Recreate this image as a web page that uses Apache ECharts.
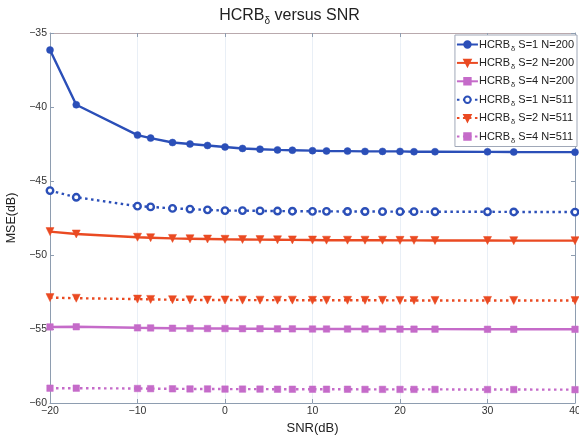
<!DOCTYPE html>
<html>
<head>
<meta charset="utf-8">
<script src="https://cdn.jsdelivr.net/npm/echarts@6/dist/echarts.min.js"></script>
<style>
  html, body { margin: 0; padding: 0; background: #fff; }
  #chart { width: 579px; height: 435px; }
</style>
</head>
<body>
<div id="chart"></div>
<script>
// SNR sample points (dB)
const snr = [-20, -17, -10, -8.5, -6, -4, -2, 0, 2, 4, 6, 7.7, 10, 11.6, 14, 16, 18, 20, 21.6, 24, 30, 33, 40];

// MSE (dB) for each configuration
const s1n200 = [-36.15, -39.85, -41.9, -42.1, -42.4, -42.5, -42.6, -42.7, -42.8, -42.85, -42.9, -42.92, -42.95, -42.97, -42.98, -43.0, -43.0, -43.0, -43.02, -43.02, -43.03, -43.04, -43.05];
const s2n200 = [-48.42, -48.58, -48.8, -48.83, -48.88, -48.9, -48.92, -48.94, -48.95, -48.96, -48.97, -48.98, -48.99, -49.0, -49.0, -49.0, -49.0, -49.01, -49.01, -49.02, -49.02, -49.03, -49.03];
const s4n200 = [-54.86, -54.85, -54.92, -54.93, -54.95, -54.96, -54.97, -54.97, -54.98, -54.98, -54.99, -54.99, -55.0, -55.0, -55.0, -55.0, -55.0, -55.01, -55.01, -55.01, -55.02, -55.02, -55.02];
const s1n511 = [-45.65, -46.1, -46.7, -46.75, -46.85, -46.9, -46.95, -47.0, -47.0, -47.02, -47.03, -47.04, -47.05, -47.05, -47.06, -47.06, -47.07, -47.07, -47.07, -47.08, -47.08, -47.09, -47.1];
const s2n511 = [-52.88, -52.92, -52.98, -53.0, -53.02, -53.03, -53.04, -53.04, -53.05, -53.05, -53.05, -53.05, -53.06, -53.06, -53.06, -53.06, -53.06, -53.07, -53.07, -53.07, -53.07, -53.07, -53.08];
const s4n511 = [-59.0, -59.0, -59.02, -59.03, -59.04, -59.05, -59.05, -59.06, -59.06, -59.06, -59.07, -59.07, -59.07, -59.07, -59.07, -59.08, -59.08, -59.08, -59.08, -59.08, -59.09, -59.09, -59.1];

const xTicks = { min: -20, max: 40, step: 10 };
const yTicks = { min: -60, max: -35, step: 5 };

const legendNames = ['S=1 N=200', 'S=2 N=200', 'S=4 N=200', 'S=1 N=511', 'S=2 N=511', 'S=4 N=511'];

const BLUE = '#2b4fb8';
const RED = '#ea4a22';
const MAGENTA = '#c56bc9';
const AXIS = '#8e9db0';
const FONT = 'Liberation Sans, Arial, sans-serif';

function pairs(ys) { return snr.map((x, i) => [x, ys[i]]); }
function minus(v) { return String(v).replace('-', '\u2212'); }

function makeSeries(name, ys, color, symbol, dotted, size, hollow) {
  return {
    name: name,
    type: 'line',
    data: pairs(ys),
    xAxisIndex: 0,
    yAxisIndex: 0,
    symbol: symbol,
    symbolSize: size,
    showAllSymbol: true,
    lineStyle: { color: color, width: 2.4, type: dotted ? [2.5, 3.5] : 'solid' },
    itemStyle: {
      color: hollow ? '#ffffff' : color,
      borderColor: color,
      borderWidth: hollow ? 2.4 : 0.5
    },
    emphasis: { disabled: true },
    animation: false,
    z: 3
  };
}

const chart = echarts.init(document.getElementById('chart'), null, { renderer: 'canvas' });

const axisCommon = {
  axisLine: { show: true, onZero: false, lineStyle: { color: AXIS, width: 1 } },
  axisTick: { show: true, inside: true, length: 4, lineStyle: { color: AXIS } },
  axisLabel: { color: '#333', fontFamily: FONT, fontSize: 10.5, formatter: minus }
};

chart.setOption({
  backgroundColor: '#ffffff',
  animation: false,
  title: {
    text: 'HCRB{sub|δ} versus SNR',
    left: 'center',
    top: 1,
    textStyle: {
      fontFamily: FONT, fontSize: 16, fontWeight: 'normal', color: '#222',
      rich: { sub: { fontFamily: FONT, fontSize: 10, color: '#222', verticalAlign: 'bottom', padding: [10, 0, 0, 0] } }
    }
  },
  grid: { left: 50, right: 4, top: 33, bottom: 32, containLabel: false, outerBoundsMode: 'none' },
  legend: {
    data: legendNames,
    orient: 'vertical',
    right: 2,
    top: 35,
    itemWidth: 21,
    itemHeight: 8,
    itemGap: 4.9,
    padding: [4, 3, 2, 1],
    backgroundColor: '#ffffff',
    borderColor: '#a0a8b8',
    borderWidth: 1,
    borderRadius: 0,
    formatter: function (name) { return '{a|HCRB}{b|δ}{a| ' + name + '}'; },
    textStyle: {
      fontFamily: FONT, fontSize: 11, color: '#222',
      padding: [0, 0, 0, -4],
      rich: {
        a: { fontFamily: FONT, fontSize: 11, color: '#222' },
        b: { fontFamily: FONT, fontSize: 7.5, color: '#222', padding: [8, 0, 0, 1] }
      }
    },
    selectedMode: false,
    z: 10
  },
  xAxis: [
    Object.assign({}, axisCommon, {
      type: 'value',
      min: xTicks.min, max: xTicks.max, interval: xTicks.step,
      name: 'SNR(dB)',
      nameLocation: 'middle',
      nameGap: 19,
      nameTextStyle: { fontFamily: FONT, fontSize: 13, color: '#222' },
      axisLabel: Object.assign({}, axisCommon.axisLabel, { margin: 3 }),
      splitLine: { show: true, lineStyle: { color: '#e9eff6', width: 1 } }
    }),
    {
      type: 'value', position: 'top', min: xTicks.min, max: xTicks.max, interval: xTicks.step,
      axisLine: { show: true, onZero: false, lineStyle: { color: '#b9a9ad', width: 1 } },
      axisTick: { show: true, inside: true, length: 4, lineStyle: { color: AXIS } },
      axisLabel: { show: false }, splitLine: { show: false }
    }
  ],
  yAxis: [
    Object.assign({}, axisCommon, {
      type: 'value',
      min: yTicks.min, max: yTicks.max, interval: yTicks.step,
      name: 'MSE(dB)',
      nameLocation: 'middle',
      nameRotate: 90,
      nameGap: 27,
      nameTextStyle: { fontFamily: FONT, fontSize: 12.5, color: '#222' },
      axisLabel: Object.assign({}, axisCommon.axisLabel, { margin: 3 }),
      splitLine: { show: false }
    }),
    {
      type: 'value', position: 'right', min: yTicks.min, max: yTicks.max, interval: yTicks.step,
      axisLine: { show: true, onZero: false, lineStyle: { color: AXIS, width: 1 } },
      axisTick: { show: true, inside: true, length: 4, lineStyle: { color: AXIS } },
      axisLabel: { show: false }, splitLine: { show: false }
    }
  ],
  series: [
    makeSeries(legendNames[0], s1n200, BLUE, 'circle', false, 7, false),
    makeSeries(legendNames[1], s2n200, RED, 'triangle', false, 8, false),
    makeSeries(legendNames[2], s4n200, MAGENTA, 'rect', false, 6.5, false),
    makeSeries(legendNames[3], s1n511, BLUE, 'circle', true, 6.5, true),
    makeSeries(legendNames[4], s2n511, RED, 'triangle', true, 8, false),
    makeSeries(legendNames[5], s4n511, MAGENTA, 'rect', true, 6.5, false)
  ].map(function (s) {
    if (s.symbol === 'triangle') s.symbolRotate = 180;
    return s;
  })
});
</script>
</body>
</html>
